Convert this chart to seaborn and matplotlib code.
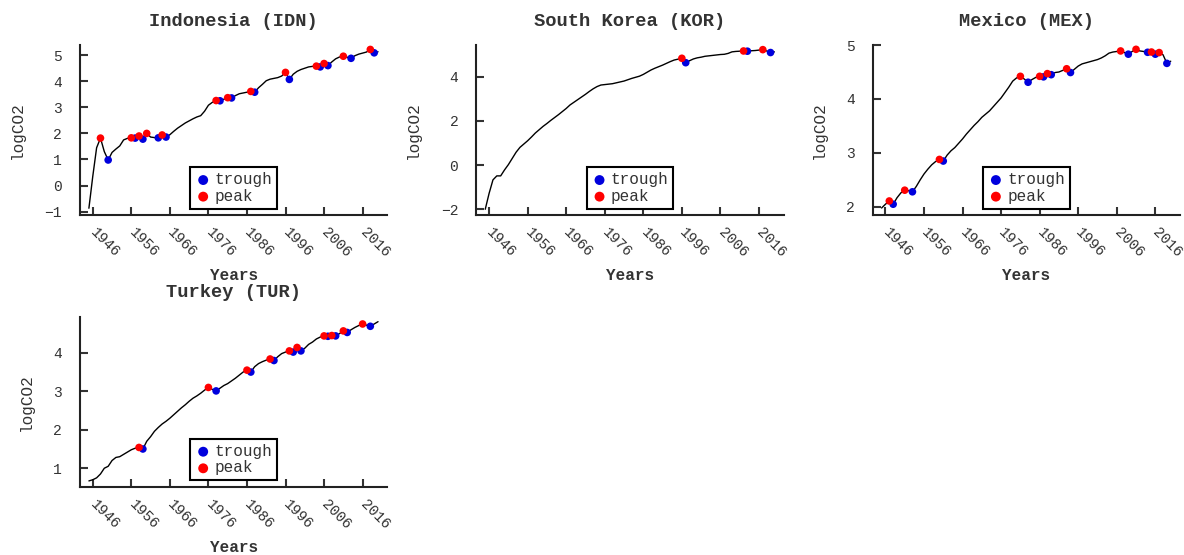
import numpy as np
import pandas as pd
import seaborn as sns
import matplotlib.pyplot as plt
from matplotlib.ticker import MultipleLocator

# years 1945..2020
years = [1945, 1946, 1947, 1948, 1949, 1950, 1951, 1952, 1953, 1954,
         1955, 1956, 1957, 1958, 1959, 1960, 1961, 1962, 1963, 1964,
         1965, 1966, 1967, 1968, 1969, 1970, 1971, 1972, 1973, 1974,
         1975, 1976, 1977, 1978, 1979, 1980, 1981, 1982, 1983, 1984,
         1985, 1986, 1987, 1988, 1989, 1990, 1991, 1992, 1993, 1994,
         1995, 1996, 1997, 1998, 1999, 2000, 2001, 2002, 2003, 2004,
         2005, 2006, 2007, 2008, 2009, 2010, 2011, 2012, 2013, 2014,
         2015, 2016, 2017, 2018, 2019, 2020]

idn_co2 = [-0.87, 0.35, 1.45, 1.82, 1.30, 0.98, 1.27, 1.40, 1.52, 1.75,
           1.81, 1.83, 1.82, 1.90, 1.78, 2.00, 1.86, 1.84, 1.83, 1.94,
           1.86, 1.95, 2.08, 2.20, 2.30, 2.40, 2.48, 2.56, 2.63, 2.68,
           2.85, 3.08, 3.19, 3.26, 3.25, 3.31, 3.37, 3.36, 3.45, 3.52,
           3.55, 3.58, 3.61, 3.58, 3.75, 3.88, 4.02, 4.08, 4.11, 4.14,
           4.20, 4.34, 4.07, 4.27, 4.38, 4.45, 4.50, 4.55, 4.57, 4.58,
           4.55, 4.68, 4.60, 4.74, 4.86, 4.93, 4.96, 4.92, 4.88, 4.98,
           5.04, 5.08, 5.12, 5.22, 5.09, 5.13]
idn_peaks = [1948, 1956, 1958, 1960, 1964, 1978, 1981, 1987, 1996, 2004, 2006, 2011, 2018]
idn_troughs = [1950, 1957, 1959, 1963, 1965, 1979, 1982, 1988, 1997, 2005, 2007, 2013, 2019]

kor_co2 = [-2.00, -1.28, -0.67, -0.49, -0.49, -0.22, 0.02, 0.30, 0.58, 0.80,
           0.95, 1.10, 1.27, 1.45, 1.60, 1.75, 1.88, 2.02, 2.15, 2.28,
           2.42, 2.56, 2.72, 2.84, 2.96, 3.08, 3.20, 3.33, 3.45, 3.55,
           3.62, 3.64, 3.66, 3.68, 3.72, 3.76, 3.80, 3.86, 3.92, 3.97,
           4.02, 4.10, 4.20, 4.30, 4.38, 4.45, 4.52, 4.60, 4.68, 4.75,
           4.79, 4.83, 4.63, 4.72, 4.80, 4.85, 4.88, 4.92, 4.94, 4.96,
           4.98, 5.00, 5.01, 5.05, 5.12, 5.14, 5.15, 5.16, 5.15, 5.17,
           5.18, 5.20, 5.22, 5.16, 5.09, 5.12]
kor_peaks = [1996, 2012, 2017]
kor_troughs = [1997, 2013, 2019]

mex_co2 = [1.98, 2.05, 2.11, 2.05, 2.17, 2.26, 2.31, 2.30, 2.28, 2.38,
           2.50, 2.61, 2.70, 2.78, 2.84, 2.88, 2.85, 2.96, 3.04, 3.10,
           3.18, 3.26, 3.35, 3.43, 3.51, 3.58, 3.66, 3.72, 3.78, 3.86,
           3.94, 4.02, 4.12, 4.22, 4.33, 4.39, 4.42, 4.37, 4.31, 4.36,
           4.40, 4.42, 4.41, 4.47, 4.45, 4.49, 4.50, 4.53, 4.56, 4.49,
           4.55, 4.61, 4.65, 4.67, 4.69, 4.71, 4.73, 4.76, 4.80, 4.85,
           4.87, 4.88, 4.89, 4.86, 4.83, 4.88, 4.92, 4.89, 4.88, 4.865,
           4.87, 4.83, 4.86, 4.82, 4.66, 4.70]
mex_peaks = [1947, 1951, 1960, 1981, 1986, 1988, 1993, 2007, 2011, 2015, 2017]
mex_troughs = [1948, 1953, 1961, 1983, 1987, 1989, 1994, 2009, 2014, 2016, 2019]

tur_co2 = [0.67, 0.70, 0.75, 0.85, 1.00, 1.05, 1.20, 1.28, 1.30, 1.36,
           1.42, 1.48, 1.52, 1.54, 1.50, 1.70, 1.82, 1.96, 2.06, 2.15,
           2.22, 2.30, 2.39, 2.48, 2.57, 2.65, 2.74, 2.82, 2.88, 2.95,
           3.03, 3.10, 3.05, 3.01, 3.08, 3.15, 3.20, 3.27, 3.34, 3.42,
           3.50, 3.55, 3.50, 3.64, 3.72, 3.77, 3.81, 3.84, 3.80, 3.90,
           3.98, 4.02, 4.05, 4.02, 4.14, 4.05, 4.12, 4.22, 4.28, 4.36,
           4.41, 4.44, 4.43, 4.45, 4.44, 4.50, 4.57, 4.53, 4.60, 4.66,
           4.71, 4.75, 4.72, 4.69, 4.75, 4.81]
tur_peaks = [1958, 1976, 1986, 1992, 1997, 1999, 2006, 2008, 2011, 2016]
tur_troughs = [1959, 1978, 1987, 1993, 1998, 2000, 2007, 2009, 2012, 2018]

tick_years = [1946, 1956, 1966, 1976, 1986, 1996, 2006, 2016]

countries = [
    ("Indonesia (IDN)", idn_co2, idn_peaks, idn_troughs, (-1.13, 5.39), 1),
    ("South Korea (KOR)", kor_co2, kor_peaks, kor_troughs, (-2.26, 5.43), 2),
    ("Mexico (MEX)", mex_co2, mex_peaks, mex_troughs, (1.85, 5.0), 1),
    ("Turkey (TUR)", tur_co2, tur_peaks, tur_troughs, (0.52, 4.94), 1),
]

sns.set_style("ticks")
txt = "#333333"
plt.rcParams["font.family"] = ["Liberation Mono", "DejaVu Sans Mono"]
plt.rcParams["text.color"] = txt
plt.rcParams["axes.labelcolor"] = txt
plt.rcParams["xtick.color"] = txt
plt.rcParams["ytick.color"] = txt

fig, axes = plt.subplots(2, 3, figsize=(11.84, 5.55), dpi=100)
plt.subplots_adjust(left=0.0676, right=0.9966, bottom=0.1231, top=0.9189,
                    wspace=0.29, hspace=0.598)
axes[1, 1].remove()
axes[1, 2].remove()
panels = [axes[0, 0], axes[0, 1], axes[0, 2], axes[1, 0]]

for ax, (title, co2, peaks, troughs, ylim, step) in zip(panels, countries):
    df = pd.DataFrame({"Years": years, "logCO2": co2})
    pk = df[df["Years"].isin(peaks)]
    tr = df[df["Years"].isin(troughs)]
    sns.lineplot(data=df, x="Years", y="logCO2", ax=ax, color="black", lw=1.0)
    sns.scatterplot(data=tr, x="Years", y="logCO2", ax=ax, color="#0000dd",
                    s=30, edgecolor="none", label="trough", zorder=3)
    sns.scatterplot(data=pk, x="Years", y="logCO2", ax=ax, color="#ff0000",
                    s=30, edgecolor="none", label="peak", zorder=3)

    ax.set_xlim(1942.7, 2022.4)
    ax.set_ylim(*ylim)
    ax.yaxis.set_major_locator(MultipleLocator(step))
    ax.set_xticks(tick_years)
    ax.set_xticklabels([str(y) for y in tick_years], rotation=-45,
                       ha="left", va="center", rotation_mode="anchor")
    ax.tick_params(direction="in", length=6, width=1.5, labelsize=10.5)
    ax.tick_params(axis="x", pad=11)
    ax.tick_params(axis="y", pad=13)
    for s in ["left", "bottom"]:
        ax.spines[s].set_linewidth(1.5)
        ax.spines[s].set_color("#222222")
    sns.despine(ax=ax)
    ax.set_title(title, fontsize=13.5, fontweight="bold", pad=14)
    ax.set_xlabel("Years", fontsize=11.5, fontweight="bold", labelpad=6)
    ax.set_ylabel("logCO2", fontsize=11.5, labelpad=14)
    leg = ax.legend(loc="lower center", fontsize=11.5, frameon=True, fancybox=False,
                    handletextpad=0.2, borderpad=0.3, labelspacing=0.1,
                    borderaxespad=0.4, handlelength=1.0, markerscale=1.3)
    leg.get_frame().set_edgecolor("black")
    leg.get_frame().set_linewidth(1.5)
    leg.get_frame().set_alpha(1)

plt.savefig("out.png", dpi=100)
